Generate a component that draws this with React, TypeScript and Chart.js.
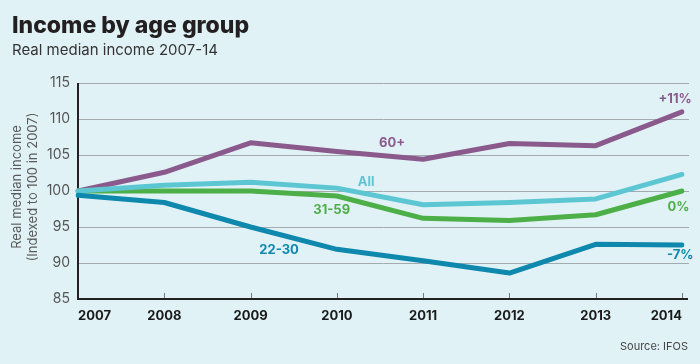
import React, { useEffect, useRef } from "react";
import { Chart, registerables } from "chart.js";

Chart.register(...registerables);

const years = ["2007", "2008", "2009", "2010", "2011", "2012", "2013", "2014"];
const age22to30 = [99.4, 98.4, 95.0, 91.9, 90.3, 88.6, 92.6, 92.5];
const ageAll = [100.0, 100.8, 101.2, 100.4, 98.1, 98.4, 98.9, 102.3];
const age31to59 = [100.0, 100.0, 100.0, 99.3, 96.2, 95.9, 96.7, 100.0];
const age60plus = [100.0, 102.6, 106.7, 105.5, 104.4, 106.6, 106.3, 111.0];

const yMin = 85;
const yMax = 115;
const yStep = 5;

// annotation labels: text, year position, value position
const labelTexts = ["60+", "All", "31-59", "22-30", "+11%", "0%", "-7%"];
const labelYears = [2010.64, 2010.34, 2009.94, 2009.33, 2013.92, 2013.96, 2013.98];
const labelValues = [106.7, 101.3, 97.4, 91.8, 112.8, 97.8, 91.1];

const COL_PURPLE = "#8b5a8c";
const COL_ALL = "#5cc7d3";
const COL_GREEN = "#4daf48";
const COL_BLUE = "#0f88ad";
const labelColors = [COL_PURPLE, COL_ALL, COL_GREEN, COL_BLUE, COL_PURPLE, COL_GREEN, COL_BLUE];

const BG = "#e1f2f7";
const FONT = "Inter, 'Open Sans', sans-serif";

export default function App() {
  const ref = useRef<HTMLCanvasElement | null>(null);

  useEffect(() => {
    if (!ref.current) return;
    const decor = {
      id: "decor",
      beforeDraw(chart: any) {
        const ctx = chart.ctx;
        ctx.save();
        ctx.fillStyle = BG;
        ctx.fillRect(0, 0, chart.width, chart.height);
        ctx.restore();
      },
      beforeDatasetsDraw(chart: any) {
        const ctx = chart.ctx;
        const { left, right, top, bottom } = chart.chartArea;
        const ys = chart.scales.y;
        const xs = chart.scales.x;
        ctx.save();
        ctx.strokeStyle = "#a3abae";
        ctx.lineWidth = 1;
        for (let v = yMin + yStep; v <= yMax; v += yStep) {
          const y = Math.round(ys.getPixelForValue(v)) + 0.5;
          ctx.beginPath();
          ctx.moveTo(left, y);
          ctx.lineTo(right + 7, y);
          ctx.stroke();
        }
        ctx.strokeStyle = "#777";
        for (let i = 1; i < years.length; i++) {
          const x = Math.round(xs.getPixelForValue(i)) + 0.5;
          ctx.beginPath();
          ctx.moveTo(x, bottom);
          ctx.lineTo(x, bottom - 6);
          ctx.stroke();
        }
        ctx.strokeStyle = "#222";
        ctx.lineWidth = 2;
        ctx.beginPath();
        ctx.moveTo(left, top);
        ctx.lineTo(left, bottom);
        ctx.lineTo(right + 6, bottom);
        ctx.stroke();
        ctx.restore();
      },
      afterDraw(chart: any) {
        const ctx = chart.ctx;
        const ys = chart.scales.y;
        const xs = chart.scales.x;
        ctx.save();
        ctx.textAlign = "left";
        ctx.textBaseline = "alphabetic";
        ctx.fillStyle = "#231f20";
        ctx.font = `800 23px ${FONT}`;
        ctx.fillText("Income by age group", 12, 33);
        ctx.fillStyle = "#333";
        ctx.font = `400 15px ${FONT}`;
        ctx.fillText("Real median income 2007-14", 12, 55);
        ctx.textAlign = "right";
        ctx.fillStyle = "#444";
        ctx.font = `400 11px ${FONT}`;
        ctx.fillText("Source: IFOS", 688, 350);
        ctx.save();
        ctx.translate(24, (chart.chartArea.top + chart.chartArea.bottom) / 2 - 4);
        ctx.rotate(-Math.PI / 2);
        ctx.textAlign = "center";
        ctx.textBaseline = "middle";
        ctx.fillStyle = "#5a5a5a";
        ctx.font = `400 13px ${FONT}`;
        ctx.fillText("Real median income", 0, -7);
        ctx.fillText("(Indexed to 100 in 2007)", 0, 9);
        ctx.restore();
        ctx.textAlign = "center";
        ctx.textBaseline = "middle";
        ctx.font = `700 13px ${FONT}`;
        for (let i = 0; i < labelTexts.length; i++) {
          const x = xs.getPixelForValue(labelYears[i] - Number(years[0]));
          const y = ys.getPixelForValue(labelValues[i]);
          ctx.fillStyle = labelColors[i];
          ctx.fillText(labelTexts[i], x, y);
        }
        ctx.restore();
      },
    };

    const mk = (label: string, data: number[], color: string) => ({
      label,
      data,
      borderColor: color,
      backgroundColor: color,
      borderWidth: 5,
      borderCapStyle: "round",
      borderJoinStyle: "round",
      pointRadius: 0,
      tension: 0,
      fill: false,
    });

    const chart = new Chart(ref.current, {
      type: "line",
      data: {
        labels: years,
        datasets: [
          mk("22-30", age22to30, COL_BLUE),
          mk("All", ageAll, COL_ALL),
          mk("31-59", age31to59, COL_GREEN),
          mk("60+", age60plus, COL_PURPLE),
        ] as any,
      },
      options: {
        responsive: false,
        animation: false,
        layout: { padding: { top: 83, left: 0, right: 18, bottom: 35 } },
        plugins: {
          legend: { display: false },
          tooltip: { enabled: false },
          title: { display: false },
        },
        scales: {
          x: {
            type: "category",
            offset: false,
            grid: { display: false, drawTicks: false, tickLength: 0 },
            border: { display: false },
            ticks: {
              align: "inner",
              padding: 9,
              color: "#1a1a1a",
              font: { family: FONT, size: 13, weight: "bold" },
              maxRotation: 0,
            },
            afterFit(scale: any) {
              scale.height = 30;
            },
          },
          y: {
            min: yMin,
            max: yMax,
            grid: { display: false, drawTicks: false, tickLength: 0 },
            border: { display: false },
            ticks: {
              stepSize: yStep,
              padding: 8,
              color: "#555",
              font: { family: FONT, size: 14 },
            },
            afterFit(scale: any) {
              scale.width = 78;
            },
          },
        },
      } as any,
      plugins: [decor],
    });
    return () => chart.destroy();
  }, []);

  return (
    <div style={{ position: "fixed", left: 0, top: 0, width: 700, height: 364, background: BG }}>
      <canvas ref={ref} width={700} height={364} />
    </div>
  );
}
